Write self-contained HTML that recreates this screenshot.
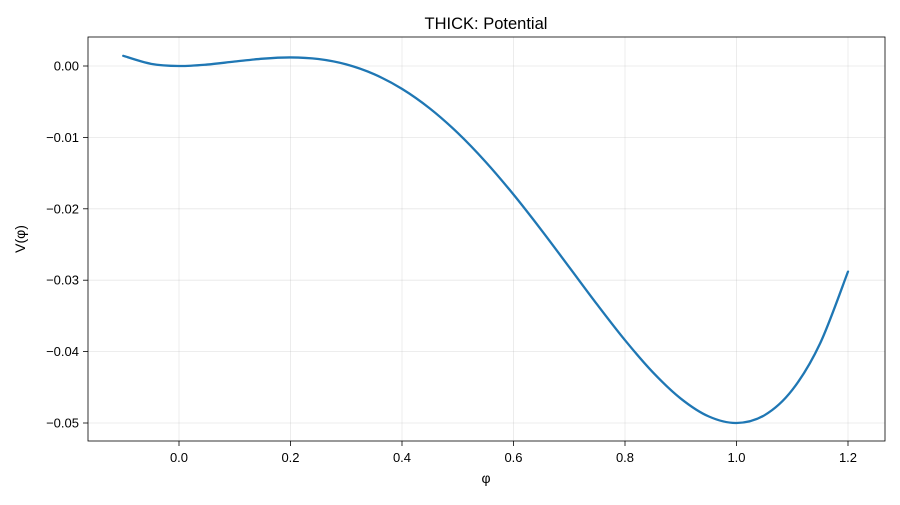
<!DOCTYPE html>
<html><head><meta charset="utf-8"><style>
body{margin:0;background:#fff;}
svg text{font-family:"Liberation Sans","DejaVu Sans",sans-serif;fill:#000;}
</style></head><body>
<svg id="chart" width="900" height="500" viewBox="0 0 900 500" xmlns="http://www.w3.org/2000/svg">
<rect x="0" y="0" width="900" height="500" fill="#fff"/>
<g id="grid"></g>
<g id="series"></g>
<rect x="88" y="37" width="797" height="404" fill="none" stroke="#000" stroke-width="0.8"/>
<g id="ticks"></g>
<text x="486" y="29" text-anchor="middle" font-size="16.5">THICK: Potential</text>
<text x="486" y="483" text-anchor="middle" font-size="14">φ</text>
<text transform="translate(25,239) rotate(-90)" text-anchor="middle" font-size="14">V(φ)</text>
</svg>
<script>
const phiValues=[-0.1,-0.05,0,0.05,0.1,0.15,0.2,0.25,0.3,0.35,0.4,0.45,0.5,0.55,0.6,0.65,0.7,0.75,0.8,0.85,0.9,0.95,1.0,1.05,1.1,1.15,1.2];
const potentialValues=[0.001425,0.0003016,0,0.0002016,0.000625,0.001027,0.0012,0.000977,0.000225,-0.0011484,-0.0032,-0.0059484,-0.009375,-0.0134234,-0.018,-0.0229734,-0.028175,-0.0333984,-0.0384,-0.0428984,-0.046575,-0.0490734,-0.05,-0.0489234,-0.045375,-0.0388484,-0.0288];
const xTicks=[0.0,0.2,0.4,0.6,0.8,1.0,1.2];
const xTickLabels=["0.0","0.2","0.4","0.6","0.8","1.0","1.2"];
const yTicks=[0,-0.01,-0.02,-0.03,-0.04,-0.05];
const yTickLabels=["0.00","−0.01","−0.02","−0.03","−0.04","−0.05"];

const NS="http://www.w3.org/2000/svg";
const xs=v=>179+(v-0)*(848-179)/1.2;
const ys=v=>66+(0-v)*(423-66)/0.05;
const grid=document.getElementById('grid'),ticks=document.getElementById('ticks'),series=document.getElementById('series');
function mk(tag,attrs,parent){const e=document.createElementNS(NS,tag);for(const k in attrs)e.setAttribute(k,attrs[k]);parent.appendChild(e);return e;}
xTicks.forEach((t,i)=>{
  const x=xs(t);
  const g=mk('line',{x1:x,x2:x,y1:37,y2:441,stroke:'#b0b0b0','stroke-width':0.8,'stroke-opacity':0.3},grid);
  
  
  const tk=mk('line',{x1:x,x2:x,y1:441,y2:446,stroke:'#000','stroke-width':0.8},ticks);
  
  
  const tx=mk('text',{x:x,y:462,'text-anchor':'middle','font-size':13},ticks);
  tx.textContent=xTickLabels[i];
  
  
});
yTicks.forEach((t,i)=>{
  const y=ys(t);
  const g=mk('line',{x1:88,x2:885,y1:y,y2:y,stroke:'#b0b0b0','stroke-width':0.8,'stroke-opacity':0.3},grid);
  
  
  const tk=mk('line',{x1:83,x2:88,y1:y,y2:y,stroke:'#000','stroke-width':0.8},ticks);
  
  
  const tx=mk('text',{x:79,y:y+4.5,'text-anchor':'end','font-size':13},ticks);
  tx.textContent=yTickLabels[i];
  
  
});
const pts=phiValues.map((p,i)=>[xs(p),ys(potentialValues[i])]);
let d=`M${pts[0][0]},${pts[0][1]}`;
for(let i=0;i<pts.length-1;i++){
  const p0=pts[Math.max(0,i-1)],p1=pts[i],p2=pts[i+1],p3=pts[Math.min(pts.length-1,i+2)];
  const c1=[p1[0]+(p2[0]-p0[0])/6,p1[1]+(p2[1]-p0[1])/6];
  const c2=[p2[0]-(p3[0]-p1[0])/6,p2[1]-(p3[1]-p1[1])/6];
  d+=` C${c1[0]},${c1[1]} ${c2[0]},${c2[1]} ${p2[0]},${p2[1]}`;
}
const line=mk('path',{d:d,fill:'none',stroke:'#1f77b4','stroke-width':2.3,'stroke-linecap':'round'},series);


</script>
</body></html>
